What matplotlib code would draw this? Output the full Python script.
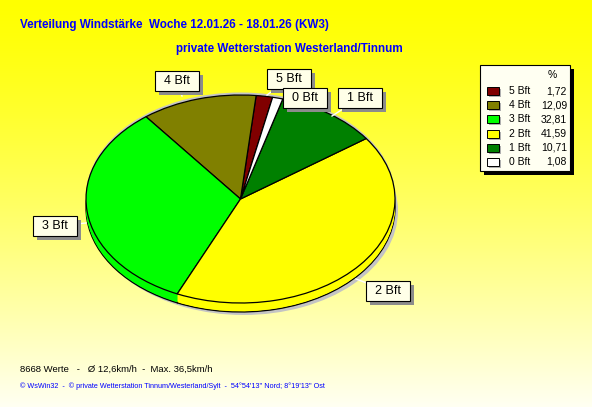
import numpy as np
import matplotlib
matplotlib.use("Agg")
from matplotlib import pyplot as plt
from matplotlib.patches import Rectangle

plt.rcParams['font.family'] = ['Liberation Sans', 'DejaVu Sans']

# data
labels = ['5 Bft', '4 Bft', '3 Bft', '2 Bft', '1 Bft', '0 Bft']
percent = [1.72, 12.09, 32.81, 41.59, 10.71, 1.08]
colors = ['#800000', '#808000', '#00ff00', '#ffff00', '#008000', '#ffffff']
title1 = 'Verteilung Windstärke  Woche 12.01.26 - 18.01.26 (KW3)'
title2 = 'private Wetterstation Westerland/Tinnum'
info = '8668 Werte   -   Ø 12,6km/h  -  Max. 36,5km/h'
footer = "© WsWin32  -  © private Wetterstation Tinnum/Westerland/Sylt  -  54°54'13'' Nord; 8°19'13'' Ost"

W, H = 592, 407
fig = plt.figure(figsize=(W / 100, H / 100), dpi=100)

# background gradient
bg = fig.add_axes([0, 0, 1, 1])
g = np.linspace(0, 1, 256) ** 1.3
img = np.zeros((256, 2, 3))
img[:, :, 0] = 1.0
img[:, :, 1] = 1.0
img[:, :, 2] = (g * 0.95)[:, None]
bg.imshow(img, extent=[0, W, H, 0], aspect='auto')
bg.set_xlim(0, W)
bg.set_ylim(H, 0)
bg.axis('off')

# pie axes: 1 unit = rx px horizontally, ry px vertically
cx, cy, rx, ry, depth = 240.5, 199, 154.5, 104, 9
pa = fig.add_axes([0, 0, 1, 1])
pa.patch.set_visible(False)
d = depth / ry

# shadow
pa.pie([1], colors=['#c4c4c4'], radius=1, center=(3 / rx, -d - 3 / ry),
       wedgeprops=dict(linewidth=0))
pa.pie([1], colors=['#c4c4c4'], radius=1, center=(0, 2.5 / ry),
       wedgeprops=dict(linewidth=0))
# side of the pie
n = 10
for k in range(n, 0, -1):
    off = -d * k / n
    lw = 0.9 if k == n else 0
    pa.pie(percent, colors=colors, startangle=78, counterclock=True,
           center=(0, off), wedgeprops=dict(edgecolor='black', linewidth=lw))
# top
pa.pie(percent, colors=colors, startangle=78, counterclock=True,
       wedgeprops=dict(edgecolor='black', linewidth=0.9))
pa.set_aspect('auto')
pa.set_xlim(-cx / rx, (W - cx) / rx)
pa.set_ylim((cy - H) / ry, cy / ry)
pa.axis('off')

# overlay in pixel coords
ov = fig.add_axes([0, 0, 1, 1])
ov.patch.set_visible(False)
ov.set_xlim(0, W)
ov.set_ylim(H, 0)
ov.axis('off')

ov.text(20, 25, title1, color='#0000ff', fontsize=8.4, fontweight='bold', va='center')
ov.text(176, 49, title2, color='#0000ff', fontsize=8.4, fontweight='bold', va='center')
ov.text(20, 369, info, color='black', fontsize=6.8, va='center')
ov.text(20, 386, footer, color='#0000ff', fontsize=5.25, va='center')

# slice labels: box centre and leader end
boxes = {'5 Bft': (289, 79, 267, 95), '4 Bft': (177, 81, 182, 96),
         '3 Bft': (55, 226, 86, 223), '2 Bft': (388, 291, 356, 279),
         '1 Bft': (360, 98, 332, 116), '0 Bft': (305, 98, 290, 104)}
for lab in ['4 Bft', '3 Bft', '2 Bft', '1 Bft', '5 Bft', '0 Bft']:
    bx, by, lx, ly = boxes[lab]
    bw, bh = 44, 20
    ov.plot([bx, lx], [by, ly], color='white', lw=1, zorder=2)
    ov.add_patch(Rectangle((bx - bw / 2 + 4, by - bh / 2 + 4), bw, bh,
                           facecolor='#8c8c8c', edgecolor='none', zorder=3))
    ov.add_patch(Rectangle((bx - bw / 2, by - bh / 2), bw, bh,
                           facecolor='#ffffe8', edgecolor='black', lw=0.8, zorder=4))
    ov.text(bx, by, lab, ha='center', va='center', fontsize=9, zorder=5)

# legend
lx0, ly0, lw_, lh = 480, 65, 90, 106
ov.add_patch(Rectangle((lx0 + 4, ly0 + 4), lw_, lh, facecolor='black', zorder=3))
ov.add_patch(Rectangle((lx0, ly0), lw_, lh, facecolor='#fffff2',
                       edgecolor='black', lw=0.8, zorder=4))
ov.text(552, 75, '%', ha='center', va='center', fontsize=7.5, zorder=5)
for i, (lab, val, c) in enumerate(zip(labels, percent, colors)):
    y = 91 + i * 14.2
    ov.add_patch(Rectangle((489, y - 2), 12, 8, facecolor='#b0b0b0', zorder=4))
    ov.add_patch(Rectangle((487, y - 4), 12, 8, facecolor=c, edgecolor='black',
                           lw=0.7, zorder=5))
    ov.text(509, y, lab, ha='left', va='center', fontsize=7.5, zorder=5)
    ov.text(567, y, f'{val:.2f}'.replace('.', ','), ha='right', va='center',
            fontsize=7.5, zorder=5)

fig.savefig('out.png', dpi=100)
